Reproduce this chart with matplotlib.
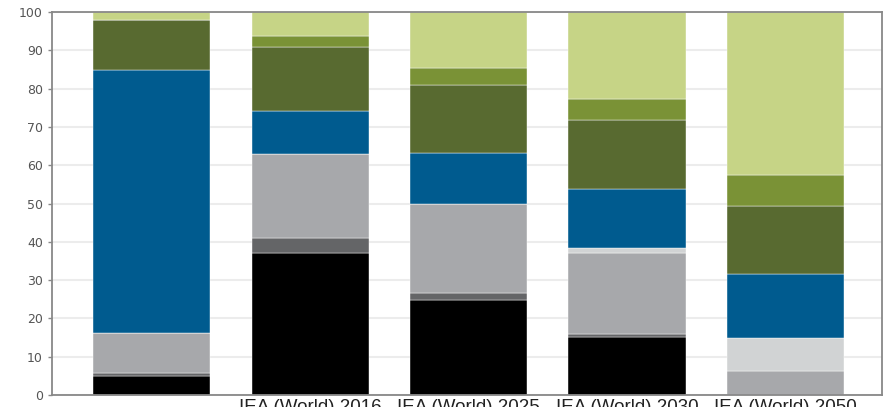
import matplotlib
matplotlib.use('Agg')
import matplotlib.pyplot as plt
import numpy as np

""" ============================ donnees ============================ """

scenarios = ['', 'IEA (World) 2016', 'IEA (World) 2025', 'IEA (World) 2030', 'IEA (World) 2050']

# parts en % (bas -> haut)
black = [5.0, 37.0, 24.8, 15.2, 0.0]
dark_grey = [0.8, 4.0, 1.8, 0.6, 0.0]
grey = [10.5, 21.9, 23.2, 21.2, 6.3]
light_grey = [0.0, 0.0, 0.0, 1.4, 8.7]
blue = [68.6, 11.2, 13.3, 15.3, 16.7]
dark_green = [12.9, 16.7, 17.8, 18.0, 17.7]
mid_green = [0.0, 2.9, 4.6, 5.7, 8.0]
light_green = [2.2, 6.5, 14.5, 22.6, 42.6]

series = [black, dark_grey, grey, light_grey, blue, dark_green, mid_green, light_green]
colors = ['#000000', '#646567', '#a7a8ab', '#d1d3d4', '#005b8f', '#586a30', '#7a9236', '#c6d486']

""" ============================ trace ============================ """

fig = plt.figure(figsize=(8.86, 4.07), dpi=100)
ax = fig.add_axes([0.0587, 0.0295, 0.9368, 0.941])

x = np.arange(len(scenarios))
bottom = np.zeros(len(scenarios))
for vals, col in zip(series, colors):
    vals = np.array(vals)
    ax.bar(x, vals, width=0.74, bottom=bottom, color=col, edgecolor='#ffffff', linewidth=0.3, zorder=2)
    bottom += vals

ax.set_xlim(-0.63, 4.61)
ax.set_ylim(0, 100)
ax.set_yticks(np.arange(0, 101, 10))
ax.yaxis.grid(True, color='#ececec', linewidth=1.5, zorder=0)
ax.set_axisbelow(True)

ax.set_xticks(x)
ax.set_xticklabels(scenarios, fontsize=13.5, family='Liberation Sans', color='#222222')
ax.tick_params(axis='x', length=0, pad=3)
ax.tick_params(axis='y', labelsize=9, labelcolor='#555555', color='#888888', length=3, width=1)

for s in ax.spines.values():
    s.set_color('#888888')
    s.set_linewidth(1.3)

plt.savefig('out.png', dpi=100)
